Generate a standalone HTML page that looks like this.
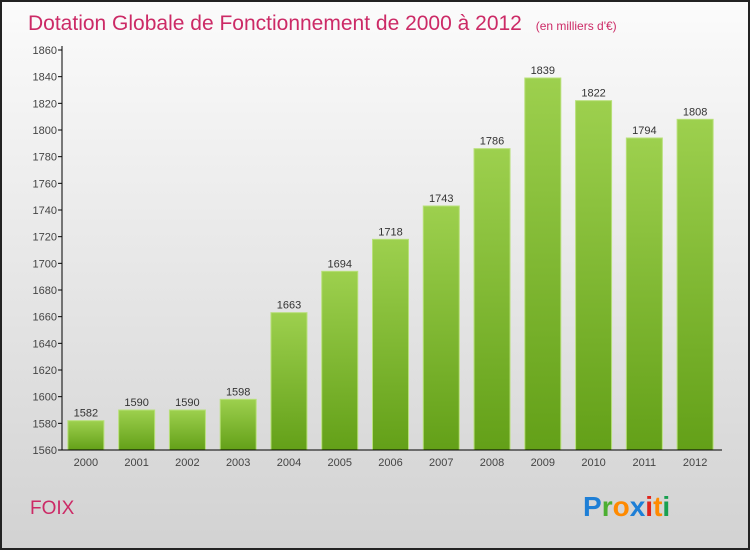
<!DOCTYPE html>
<html><head><meta charset="utf-8"><style>
body{margin:0}
#c{width:750px;height:550px;position:relative;overflow:hidden;font-family:"Liberation Sans",sans-serif}
</style></head><body>
<div id="c">
<svg id="s" width="750" height="550" xmlns="http://www.w3.org/2000/svg">
<defs>
<linearGradient id="bg" x1="0" y1="0" x2="0" y2="1"><stop offset="0" stop-color="#fbfbfb"/><stop offset="1" stop-color="#d2d2d2"/></linearGradient>
<linearGradient id="bar" x1="0" y1="0" x2="0" y2="1"><stop offset="0" stop-color="#9dd04e"/><stop offset="1" stop-color="#63a018"/></linearGradient>
</defs>
<rect x="1" y="1" width="748" height="548" fill="url(#bg)" stroke="#222" stroke-width="2"/>
<text x="28" y="30" font-size="21" fill="#cc2a66">Dotation Globale de Fonctionnement de 2000 à 2012 <tspan font-size="12" dx="8">(en milliers d'€)</tspan></text>
<text x="30" y="514" font-size="19" fill="#cc2a66">FOIX</text>
<g font-size="28" font-weight="bold" font-family="'Liberation Sans',sans-serif">
<text x="583" y="516"><tspan fill="#1e7fd6">P</tspan><tspan fill="#4caf32">r</tspan><tspan fill="#ff8a00">o</tspan><tspan fill="#1e7fd6">x</tspan><tspan fill="#e0241c">i</tspan><tspan fill="#ff8a00">t</tspan><tspan fill="#18a050">i</tspan></text>
</g>
<g id="plot"></g>
</svg>
</div>
<script>
const years=["2000","2001","2002","2003","2004","2005","2006","2007","2008","2009","2010","2011","2012"];
const values=[1582,1590,1590,1598,1663,1694,1718,1743,1786,1839,1822,1794,1808];
const yTicks=[1560,1580,1600,1620,1640,1660,1680,1700,1720,1740,1760,1780,1800,1820,1840,1860];
const NS="http://www.w3.org/2000/svg";
const g=document.getElementById('plot');
const L=62,R=722,T=50,B=450,yMin=1560,yMax=1860;
const y=v=>B-(v-yMin)/(yMax-yMin)*(B-T);
const band=(R-L)/years.length;
const x=i=>L-1.5+band*i+band/2;
function mk(t,a,txt){const e=document.createElementNS(NS,t);for(const k in a)e.setAttribute(k,a[k]);if(txt!==undefined)e.textContent=txt;g.appendChild(e);return e;}
yTicks.forEach(v=>{
 const tk=mk('line',{x1:L-4,x2:L,y1:y(v),y2:y(v),stroke:'#000'});
 
 
 const tl=mk('text',{x:L-5,y:y(v)+4,'font-size':11,fill:'#444','text-anchor':'end'},v);
 
 
});
values.forEach((v,i)=>{
 const w=36;
 const b=mk('rect',{x:x(i)-w/2,y:y(v),width:w,height:B-y(v),fill:'url(#bar)',stroke:'#b8e07a','stroke-width':1});
 
 
 const vl=mk('text',{x:x(i),y:y(v)-4,'font-size':11,fill:'#333','text-anchor':'middle'},v);
 
 
 const xl=mk('text',{x:x(i),y:B+16,'font-size':11,fill:'#444','text-anchor':'middle'},years[i]);
 
 
});
const ya=mk('line',{x1:L,x2:L,y1:T-4,y2:B,stroke:'#000'});


const xa=mk('line',{x1:L,x2:R,y1:B,y2:B,stroke:'#000'});


</script>
</body></html>
